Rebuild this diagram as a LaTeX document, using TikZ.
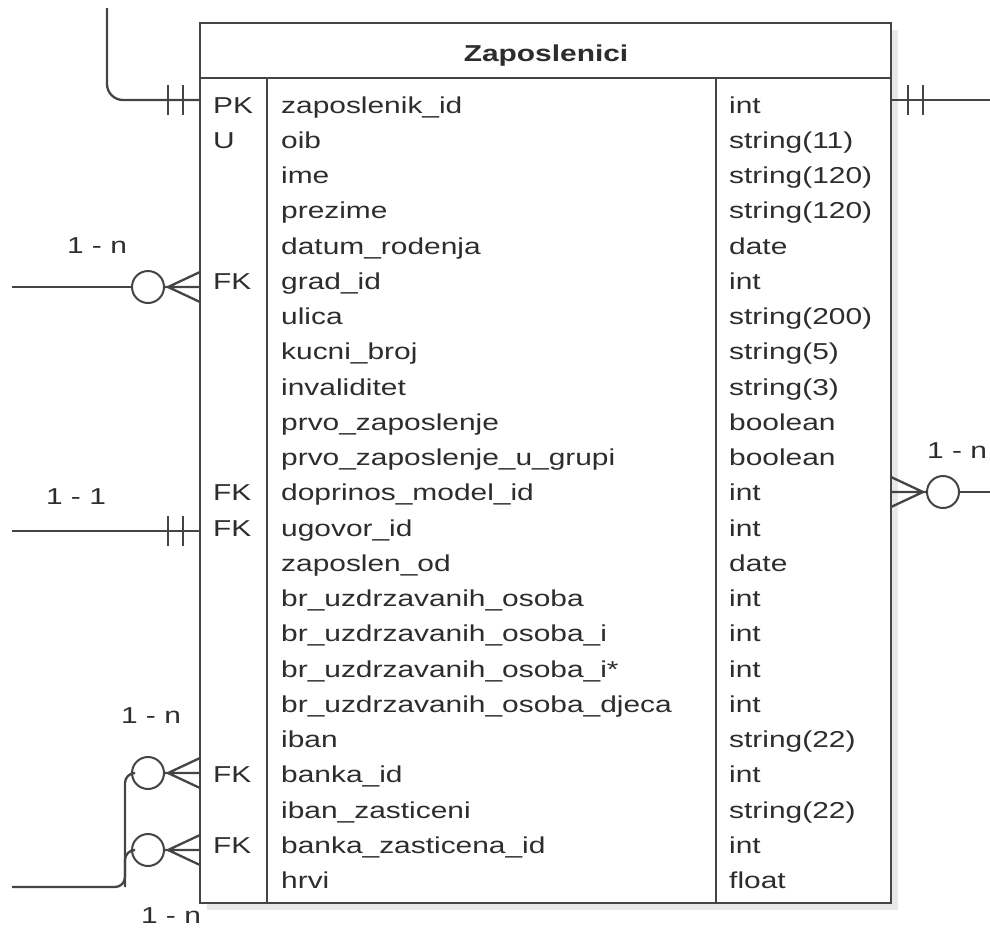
\documentclass[tikz,border=0pt]{standalone}
\usepackage{fontspec}
\setmainfont{Liberation Sans}
\usetikzlibrary{positioning}
\definecolor{ink}{RGB}{45,45,45}
\definecolor{edge}{RGB}{68,68,68}
\newcommand{\wide}[1]{\scalebox{1.3}[1]{#1}}

\tikzset{
  wire/.style={edge, line width=2.3pt},
  ring/.style={circle, draw=edge, line width=2pt, fill=white, minimum size=32pt, inner sep=0pt},
  cell/.style={anchor=base west},
  lbl/.style={anchor=base},
  bars/.pic={\draw[wire] (-32,-15) -- (-32,15) (-17,-15) -- (-17,15);},
  crowfoot/.pic={
    \draw[wire] (0,-15) -- (-32,0) -- (0,15) (0,0) -- (-36,0);
    \node[ring] (-o) at (-52,0) {};
  }
}

\begin{document}
\begin{tikzpicture}[x=1pt, y=-1pt,
  every node/.style={font=\fontsize{23}{27}\selectfont, text=ink, inner sep=0pt}]

  \useasboundingbox (0,0) rectangle (990,927);

  % table with shadow
  \fill[gray!18] (207,30) rectangle (898,910);
  \draw[wire, fill=white] (200,23) rectangle (891,903);
  \draw[wire] (200,78) -- (891,78);
  \draw[wire] (267,78) -- (267,903);
  \draw[wire] (716,78) -- (716,903);
  \node[lbl, font=\fontsize{23}{27}\selectfont\bfseries] (title) at (546,61) {\wide{Zaposlenici}};

  \foreach \k/\n/\t [count=\i from 0] in {
      PK/zaposlenik\_id/int,
      U/oib/string(11),
      {}/ime/string(120),
      {}/prezime/string(120),
      {}/datum\_rodenja/date,
      FK/grad\_id/int,
      {}/ulica/string(200),
      {}/kucni\_broj/string(5),
      {}/invaliditet/string(3),
      {}/prvo\_zaposlenje/boolean,
      {}/prvo\_zaposlenje\_u\_grupi/boolean,
      FK/doprinos\_model\_id/int,
      FK/ugovor\_id/int,
      {}/zaposlen\_od/date,
      {}/br\_uzdrzavanih\_osoba/int,
      {}/br\_uzdrzavanih\_osoba\_i/int,
      {}/br\_uzdrzavanih\_osoba\_i*/int,
      {}/br\_uzdrzavanih\_osoba\_djeca/int,
      {}/iban/string(22),
      FK/banka\_id/int,
      {}/iban\_zasticeni/string(22),
      FK/banka\_zasticena\_id/int,
      {}/hrvi/float}{
    \pgfmathsetmacro{\yb}{113+35.25*\i}
    \node[cell] (key\i) at (213,\yb) {\wide{\k}};
    \node[cell] (name\i) at (281,\yb) {\wide{\n}};
    \node[cell] (type\i) at (729,\yb) {\wide{\t}};
  }

  % connection points on the table
  \coordinate (pkL) at (200,100);
  \coordinate (pkR) at (891,100);
  \coordinate (gradL) at (200,287);
  \coordinate (dopR) at (891,492);
  \coordinate (ugovorL) at (200,531);
  \coordinate (bankaL) at (200,773);
  \coordinate (bankazL) at (200,850);
  % free ends
  \coordinate (pkTop) at (107,8);
  \coordinate (pkEnd) at (990,100);
  \coordinate (gradEnd) at (12,287);
  \coordinate (dopEnd) at (990,492);
  \coordinate (ugovorEnd) at (12,531);
  \coordinate (bus) at (125,887);
  \coordinate (bankEnd) at (12,887);

  % one - one
  \draw[wire, rounded corners=16pt] (pkTop) |- (pkL);
  \pic at (pkL) {bars};
  \draw[wire] (pkR) -- (pkEnd);
  \pic[xscale=-1] at (pkR) {bars};
  \draw[wire] (ugovorEnd) -- (ugovorL);
  \pic at (ugovorL) {bars};

  % one - many
  \pic (grad) at (gradL) {crowfoot};
  \draw[wire] (gradEnd) -- (grad-o);
  \pic[xscale=-1] (dop) at (dopR) {crowfoot};
  \draw[wire] (dop-o) -- (dopEnd);
  \pic (banka) at (bankaL) {crowfoot};
  \pic (bankaz) at (bankazL) {crowfoot};
  \draw[wire, rounded corners=10pt] (banka-o.west) -| (bus) -- (bankEnd);
  \draw[wire, rounded corners=10pt] (bankaz-o.west) -| (bus);

  % cardinality labels
  \node[lbl] (lblGrad) at (97,253) {\wide{1 - n}};
  \node[lbl] (lblUgovor) at (76,504) {\wide{1 - 1}};
  \node[lbl] (lblDop) at (957,458) {\wide{1 - n}};
  \node[lbl] (lblBanka) at (151,723) {\wide{1 - n}};
  \node[lbl] (lblBankaz) at (171,923) {\wide{1 - n}};
\end{tikzpicture}
\end{document}
